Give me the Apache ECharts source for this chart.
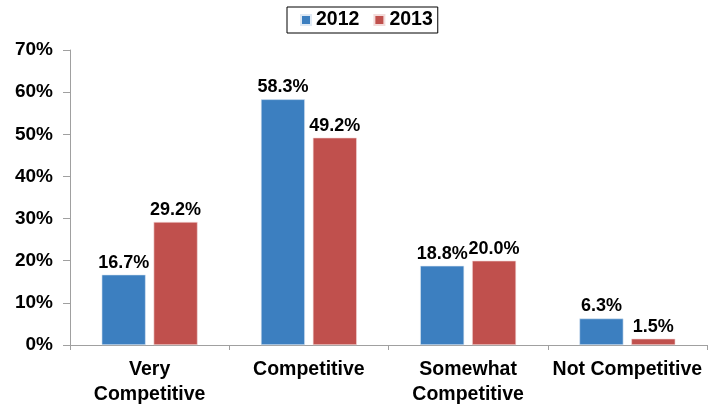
<!DOCTYPE html>
<html>
<head>
<meta charset="utf-8">
<script src="https://cdn.jsdelivr.net/npm/echarts@6/dist/echarts.min.js"></script>
<style>
  html, body { margin: 0; padding: 0; background: #fff; }
  #chart { width: 711px; height: 407px; }
</style>
</head>
<body>
<div id="chart"></div>
<script>
// Market competitiveness ratings, share of respondents by year
const categories = ['Very\nCompetitive', 'Competitive', 'Somewhat\nCompetitive', 'Not Competitive'];
const values2012 = [16.7, 58.3, 18.8, 6.3];
const values2013 = [29.2, 49.2, 20.0, 1.5];
const yTicks = [0, 10, 20, 30, 40, 50, 60, 70];

const FONT = '"Liberation Sans", Arial, sans-serif';

const chart = echarts.init(document.getElementById('chart'), null, { renderer: 'canvas' });

const labelStyle = {
  show: true,
  position: 'top',
  distance: 3,
  color: '#000',
  fontFamily: FONT,
  fontWeight: 'bold',
  fontSize: 18,
  formatter: p => p.value.toFixed(1) + '%'
};

chart.setOption({
  animation: false,
  textStyle: { fontFamily: FONT },
  legend: {
    top: 7,
    left: 287,
    itemWidth: 10,
    itemHeight: 10,
    itemGap: 14,
    padding: [3, 5, 3, 13],
    borderColor: '#000',
    borderWidth: 1,
    icon: 'rect',
    textStyle: { fontFamily: FONT, fontWeight: 'bold', fontSize: 19.5, color: '#000' },
    data: ['2012', '2013']
  },
  grid: { left: 70, right: 4, top: 50, bottom: 60, containLabel: false },
  xAxis: {
    type: 'category',
    data: categories,
    axisLine: { lineStyle: { color: '#a0a0a0', width: 1 } },
    axisTick: { show: true, alignWithLabel: false, length: 5, lineStyle: { color: '#a0a0a0' } },
    axisLabel: {
      color: '#000',
      fontFamily: FONT,
      fontWeight: 'bold',
      fontSize: 19.5,
      margin: 12,
      lineHeight: 25,
      interval: 0
    }
  },
  yAxis: {
    type: 'value',
    min: yTicks[0],
    max: yTicks[yTicks.length - 1],
    interval: 10,
    axisLine: { show: true, lineStyle: { color: '#a0a0a0', width: 1 } },
    axisTick: { show: true, length: 7, lineStyle: { color: '#a0a0a0' } },
    splitLine: { show: false },
    axisLabel: {
      color: '#000',
      fontFamily: FONT,
      fontWeight: 'bold',
      fontSize: 19,
      margin: 17,
      formatter: v => v + '%'
    }
  },
  series: [
    {
      name: '2012',
      type: 'bar',
      data: values2012,
      barWidth: 44,
      barGap: '18%',
      itemStyle: { color: '#3c7fc0', borderColor: '#dfe9f4', borderWidth: 0.6 },
      label: labelStyle
    },
    {
      name: '2013',
      type: 'bar',
      data: values2013,
      barWidth: 44,
      itemStyle: { color: '#c0504d', borderColor: '#f3dcdb', borderWidth: 0.6 },
      label: labelStyle
    }
  ]
});
</script>
</body>
</html>
